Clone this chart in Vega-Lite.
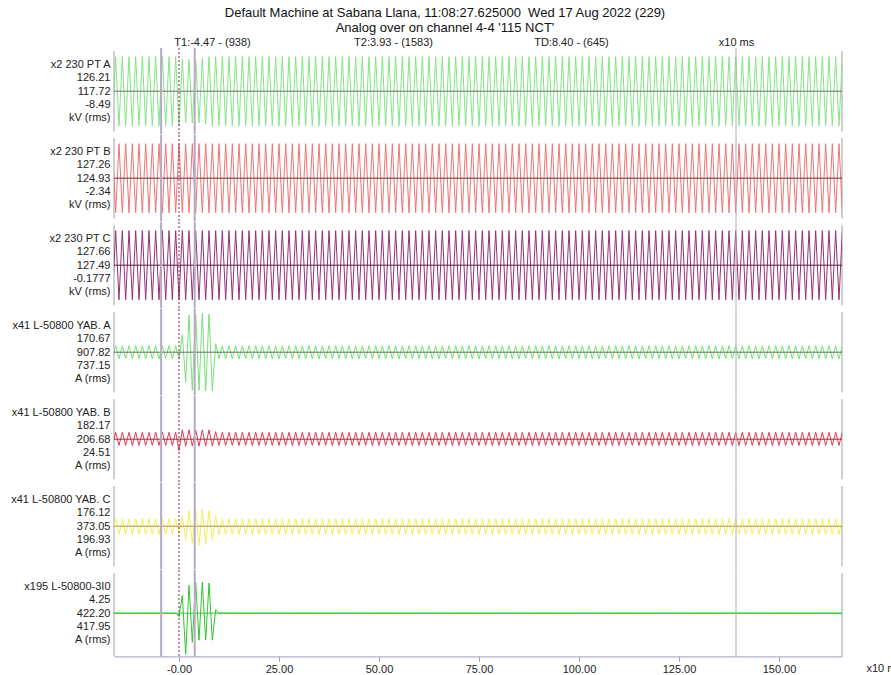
{
"$schema": "https://vega.github.io/schema/vega-lite/v6.json",
"padding": {"left": 10, "top": 7, "right": 0, "bottom": 0},
"background": "white",
"spacing": 0,
"bounds": "flush",
"config": {
 "font": "Liberation Sans",
 "view": {"stroke": null},
 "concat": {"spacing": 0},
 "title": {"fontSize": 13, "fontWeight": "normal", "color": "#111111"},
 "axisY": {"titleAngle": 0, "titleAlign": "right", "titleBaseline": "middle", "titleX": -4, "titleY": 16.6, "titleFontSize": 11, "titleFontWeight": "normal", "titleLineHeight": 13.3, "titleColor": "#222222", "labels": false, "ticks": false, "domain": false, "grid": false}
},
"title": {"text": ["Default Machine at Sabana Llana, 11:08:27.625000\u00a0 Wed 17 Aug 2022 (229)", "Analog over on channel 4-4 '115 NCT'"], "lineHeight": 15, "offset": 1, "anchor": "middle", "dx": -11},
"datasets": {
 "tc": [{"t": -4.47}, {"t": 3.93}],
 "tz": [{"t": 0}],
 "tm": [{"t": 139.25}],
 "zero": [{"v": 0}],
 "w": [
{"t":-16.67,"a":-100,"b":100,"c":-100,"d":-19,"e":-18,"f":-24,"g":0},
{"t":-15.83,"a":100,"b":-100,"c":100,"d":19,"e":20,"f":22,"g":0},
{"t":-15,"a":-100,"b":100,"c":-100,"d":-19,"e":-18,"f":-24,"g":0},
{"t":-14.17,"a":100,"b":-100,"c":100,"d":19,"e":20,"f":22,"g":0},
{"t":-13.33,"a":-100,"b":100,"c":-100,"d":-19,"e":-18,"f":-24,"g":0},
{"t":-12.5,"a":100,"b":-100,"c":100,"d":19,"e":20,"f":22,"g":0},
{"t":-11.67,"a":-100,"b":100,"c":-100,"d":-19,"e":-18,"f":-24,"g":0},
{"t":-10.83,"a":100,"b":-100,"c":100,"d":19,"e":20,"f":22,"g":0},
{"t":-10,"a":-100,"b":100,"c":-100,"d":-19,"e":-18,"f":-24,"g":0},
{"t":-9.17,"a":100,"b":-100,"c":100,"d":19,"e":20,"f":22,"g":0},
{"t":-8.33,"a":-100,"b":100,"c":-100,"d":-19,"e":-18,"f":-24,"g":0},
{"t":-7.5,"a":100,"b":-100,"c":100,"d":19,"e":20,"f":22,"g":0},
{"t":-6.67,"a":-100,"b":100,"c":-100,"d":-19,"e":-18,"f":-24,"g":0},
{"t":-5.83,"a":100,"b":-100,"c":100,"d":19,"e":20,"f":22,"g":0},
{"t":-5,"a":-100,"b":100,"c":-100,"d":-19,"e":-18,"f":-24,"g":0},
{"t":-4.17,"a":100,"b":-100,"c":100,"d":19,"e":20,"f":22,"g":0},
{"t":-3.33,"a":-100,"b":100,"c":-100,"d":-19,"e":-18,"f":-24,"g":0},
{"t":-2.5,"a":100,"b":-100,"c":100,"d":19,"e":20,"f":22,"g":0},
{"t":-1.67,"a":-100,"b":100,"c":-100,"d":-19,"e":-18,"f":-24,"g":0},
{"t":-0.83,"a":100,"b":-100,"c":100,"d":19,"e":20,"f":22,"g":0},
{"t":0,"a":-100,"b":100,"c":-100,"d":-19,"e":-33,"f":-24,"g":-10},
{"t":0.83,"a":92,"b":-100,"c":100,"d":50,"e":27,"f":30,"g":52},
{"t":1.67,"a":-92,"b":100,"c":-100,"d":-87,"e":-20,"f":-40,"g":-119},
{"t":2.5,"a":92,"b":-100,"c":100,"d":107,"e":27,"f":45,"g":81},
{"t":3.33,"a":-92,"b":100,"c":-100,"d":-110,"e":-20,"f":-50,"g":-84},
{"t":4.17,"a":92,"b":-100,"c":100,"d":110,"e":27,"f":50,"g":90},
{"t":5,"a":-92,"b":100,"c":-100,"d":-110,"e":-20,"f":-55,"g":-78},
{"t":5.83,"a":95,"b":-100,"c":100,"d":112,"e":27,"f":50,"g":90},
{"t":6.67,"a":-95,"b":100,"c":-100,"d":-112,"e":-20,"f":-50,"g":-78},
{"t":7.5,"a":100,"b":-100,"c":100,"d":110,"e":27,"f":45,"g":87},
{"t":8.33,"a":-100,"b":100,"c":-100,"d":-112,"e":-20,"f":-40,"g":-78},
{"t":9.17,"a":100,"b":-100,"c":100,"d":25,"e":22,"f":30,"g":10},
{"t":10,"a":-100,"b":100,"c":-100,"d":-19,"e":-18,"f":-25,"g":0},
{"t":10.83,"a":100,"b":-100,"c":100,"d":19,"e":20,"f":22,"g":0},
{"t":11.67,"a":-100,"b":100,"c":-100,"d":-19,"e":-18,"f":-24,"g":0},
{"t":12.5,"a":100,"b":-100,"c":100,"d":19,"e":20,"f":22,"g":0},
{"t":13.33,"a":-100,"b":100,"c":-100,"d":-19,"e":-18,"f":-24,"g":0},
{"t":14.17,"a":100,"b":-100,"c":100,"d":19,"e":20,"f":22,"g":0},
{"t":15,"a":-100,"b":100,"c":-100,"d":-19,"e":-18,"f":-24,"g":0},
{"t":15.83,"a":100,"b":-100,"c":100,"d":19,"e":20,"f":22,"g":0},
{"t":16.67,"a":-100,"b":100,"c":-100,"d":-19,"e":-18,"f":-24,"g":0},
{"t":17.5,"a":100,"b":-100,"c":100,"d":19,"e":20,"f":22,"g":0},
{"t":18.33,"a":-100,"b":100,"c":-100,"d":-19,"e":-18,"f":-24,"g":0},
{"t":19.17,"a":100,"b":-100,"c":100,"d":19,"e":20,"f":22,"g":0},
{"t":20,"a":-100,"b":100,"c":-100,"d":-19,"e":-18,"f":-24,"g":0},
{"t":20.83,"a":100,"b":-100,"c":100,"d":19,"e":20,"f":22,"g":0},
{"t":21.67,"a":-100,"b":100,"c":-100,"d":-19,"e":-18,"f":-24,"g":0},
{"t":22.5,"a":100,"b":-100,"c":100,"d":19,"e":20,"f":22,"g":0},
{"t":23.33,"a":-100,"b":100,"c":-100,"d":-19,"e":-18,"f":-24,"g":0},
{"t":24.17,"a":100,"b":-100,"c":100,"d":19,"e":20,"f":22,"g":0},
{"t":25,"a":-100,"b":100,"c":-100,"d":-19,"e":-18,"f":-24,"g":0},
{"t":25.83,"a":100,"b":-100,"c":100,"d":19,"e":20,"f":22,"g":0},
{"t":26.67,"a":-100,"b":100,"c":-100,"d":-19,"e":-18,"f":-24,"g":0},
{"t":27.5,"a":100,"b":-100,"c":100,"d":19,"e":20,"f":22,"g":0},
{"t":28.33,"a":-100,"b":100,"c":-100,"d":-19,"e":-18,"f":-24,"g":0},
{"t":29.17,"a":100,"b":-100,"c":100,"d":19,"e":20,"f":22,"g":0},
{"t":30,"a":-100,"b":100,"c":-100,"d":-19,"e":-18,"f":-24,"g":0},
{"t":30.83,"a":100,"b":-100,"c":100,"d":19,"e":20,"f":22,"g":0},
{"t":31.67,"a":-100,"b":100,"c":-100,"d":-19,"e":-18,"f":-24,"g":0},
{"t":32.5,"a":100,"b":-100,"c":100,"d":19,"e":20,"f":22,"g":0},
{"t":33.33,"a":-100,"b":100,"c":-100,"d":-19,"e":-18,"f":-24,"g":0},
{"t":34.17,"a":100,"b":-100,"c":100,"d":19,"e":20,"f":22,"g":0},
{"t":35,"a":-100,"b":100,"c":-100,"d":-19,"e":-18,"f":-24,"g":0},
{"t":35.83,"a":100,"b":-100,"c":100,"d":19,"e":20,"f":22,"g":0},
{"t":36.67,"a":-100,"b":100,"c":-100,"d":-19,"e":-18,"f":-24,"g":0},
{"t":37.5,"a":100,"b":-100,"c":100,"d":19,"e":20,"f":22,"g":0},
{"t":38.33,"a":-100,"b":100,"c":-100,"d":-19,"e":-18,"f":-24,"g":0},
{"t":39.17,"a":100,"b":-100,"c":100,"d":19,"e":20,"f":22,"g":0},
{"t":40,"a":-100,"b":100,"c":-100,"d":-19,"e":-18,"f":-24,"g":0},
{"t":40.83,"a":100,"b":-100,"c":100,"d":19,"e":20,"f":22,"g":0},
{"t":41.67,"a":-100,"b":100,"c":-100,"d":-19,"e":-18,"f":-24,"g":0},
{"t":42.5,"a":100,"b":-100,"c":100,"d":19,"e":20,"f":22,"g":0},
{"t":43.33,"a":-100,"b":100,"c":-100,"d":-19,"e":-18,"f":-24,"g":0},
{"t":44.17,"a":100,"b":-100,"c":100,"d":19,"e":20,"f":22,"g":0},
{"t":45,"a":-100,"b":100,"c":-100,"d":-19,"e":-18,"f":-24,"g":0},
{"t":45.83,"a":100,"b":-100,"c":100,"d":19,"e":20,"f":22,"g":0},
{"t":46.67,"a":-100,"b":100,"c":-100,"d":-19,"e":-18,"f":-24,"g":0},
{"t":47.5,"a":100,"b":-100,"c":100,"d":19,"e":20,"f":22,"g":0},
{"t":48.33,"a":-100,"b":100,"c":-100,"d":-19,"e":-18,"f":-24,"g":0},
{"t":49.17,"a":100,"b":-100,"c":100,"d":19,"e":20,"f":22,"g":0},
{"t":50,"a":-100,"b":100,"c":-100,"d":-19,"e":-18,"f":-24,"g":0},
{"t":50.83,"a":100,"b":-100,"c":100,"d":19,"e":20,"f":22,"g":0},
{"t":51.67,"a":-100,"b":100,"c":-100,"d":-19,"e":-18,"f":-24,"g":0},
{"t":52.5,"a":100,"b":-100,"c":100,"d":19,"e":20,"f":22,"g":0},
{"t":53.33,"a":-100,"b":100,"c":-100,"d":-19,"e":-18,"f":-24,"g":0},
{"t":54.17,"a":100,"b":-100,"c":100,"d":19,"e":20,"f":22,"g":0},
{"t":55,"a":-100,"b":100,"c":-100,"d":-19,"e":-18,"f":-24,"g":0},
{"t":55.83,"a":100,"b":-100,"c":100,"d":19,"e":20,"f":22,"g":0},
{"t":56.67,"a":-100,"b":100,"c":-100,"d":-19,"e":-18,"f":-24,"g":0},
{"t":57.5,"a":100,"b":-100,"c":100,"d":19,"e":20,"f":22,"g":0},
{"t":58.33,"a":-100,"b":100,"c":-100,"d":-19,"e":-18,"f":-24,"g":0},
{"t":59.17,"a":100,"b":-100,"c":100,"d":19,"e":20,"f":22,"g":0},
{"t":60,"a":-100,"b":100,"c":-100,"d":-19,"e":-18,"f":-24,"g":0},
{"t":60.83,"a":100,"b":-100,"c":100,"d":19,"e":20,"f":22,"g":0},
{"t":61.67,"a":-100,"b":100,"c":-100,"d":-19,"e":-18,"f":-24,"g":0},
{"t":62.5,"a":100,"b":-100,"c":100,"d":19,"e":20,"f":22,"g":0},
{"t":63.33,"a":-100,"b":100,"c":-100,"d":-19,"e":-18,"f":-24,"g":0},
{"t":64.17,"a":100,"b":-100,"c":100,"d":19,"e":20,"f":22,"g":0},
{"t":65,"a":-100,"b":100,"c":-100,"d":-19,"e":-18,"f":-24,"g":0},
{"t":65.83,"a":100,"b":-100,"c":100,"d":19,"e":20,"f":22,"g":0},
{"t":66.67,"a":-100,"b":100,"c":-100,"d":-19,"e":-18,"f":-24,"g":0},
{"t":67.5,"a":100,"b":-100,"c":100,"d":19,"e":20,"f":22,"g":0},
{"t":68.33,"a":-100,"b":100,"c":-100,"d":-19,"e":-18,"f":-24,"g":0},
{"t":69.17,"a":100,"b":-100,"c":100,"d":19,"e":20,"f":22,"g":0},
{"t":70,"a":-100,"b":100,"c":-100,"d":-19,"e":-18,"f":-24,"g":0},
{"t":70.83,"a":100,"b":-100,"c":100,"d":19,"e":20,"f":22,"g":0},
{"t":71.67,"a":-100,"b":100,"c":-100,"d":-19,"e":-18,"f":-24,"g":0},
{"t":72.5,"a":100,"b":-100,"c":100,"d":19,"e":20,"f":22,"g":0},
{"t":73.33,"a":-100,"b":100,"c":-100,"d":-19,"e":-18,"f":-24,"g":0},
{"t":74.17,"a":100,"b":-100,"c":100,"d":19,"e":20,"f":22,"g":0},
{"t":75,"a":-100,"b":100,"c":-100,"d":-19,"e":-18,"f":-24,"g":0},
{"t":75.83,"a":100,"b":-100,"c":100,"d":19,"e":20,"f":22,"g":0},
{"t":76.67,"a":-100,"b":100,"c":-100,"d":-19,"e":-18,"f":-24,"g":0},
{"t":77.5,"a":100,"b":-100,"c":100,"d":19,"e":20,"f":22,"g":0},
{"t":78.33,"a":-100,"b":100,"c":-100,"d":-19,"e":-18,"f":-24,"g":0},
{"t":79.17,"a":100,"b":-100,"c":100,"d":19,"e":20,"f":22,"g":0},
{"t":80,"a":-100,"b":100,"c":-100,"d":-19,"e":-18,"f":-24,"g":0},
{"t":80.83,"a":100,"b":-100,"c":100,"d":19,"e":20,"f":22,"g":0},
{"t":81.67,"a":-100,"b":100,"c":-100,"d":-19,"e":-18,"f":-24,"g":0},
{"t":82.5,"a":100,"b":-100,"c":100,"d":19,"e":20,"f":22,"g":0},
{"t":83.33,"a":-100,"b":100,"c":-100,"d":-19,"e":-18,"f":-24,"g":0},
{"t":84.17,"a":100,"b":-100,"c":100,"d":19,"e":20,"f":22,"g":0},
{"t":85,"a":-100,"b":100,"c":-100,"d":-19,"e":-18,"f":-24,"g":0},
{"t":85.83,"a":100,"b":-100,"c":100,"d":19,"e":20,"f":22,"g":0},
{"t":86.67,"a":-100,"b":100,"c":-100,"d":-19,"e":-18,"f":-24,"g":0},
{"t":87.5,"a":100,"b":-100,"c":100,"d":19,"e":20,"f":22,"g":0},
{"t":88.33,"a":-100,"b":100,"c":-100,"d":-19,"e":-18,"f":-24,"g":0},
{"t":89.17,"a":100,"b":-100,"c":100,"d":19,"e":20,"f":22,"g":0},
{"t":90,"a":-100,"b":100,"c":-100,"d":-19,"e":-18,"f":-24,"g":0},
{"t":90.83,"a":100,"b":-100,"c":100,"d":19,"e":20,"f":22,"g":0},
{"t":91.67,"a":-100,"b":100,"c":-100,"d":-19,"e":-18,"f":-24,"g":0},
{"t":92.5,"a":100,"b":-100,"c":100,"d":19,"e":20,"f":22,"g":0},
{"t":93.33,"a":-100,"b":100,"c":-100,"d":-19,"e":-18,"f":-24,"g":0},
{"t":94.17,"a":100,"b":-100,"c":100,"d":19,"e":20,"f":22,"g":0},
{"t":95,"a":-100,"b":100,"c":-100,"d":-19,"e":-18,"f":-24,"g":0},
{"t":95.83,"a":100,"b":-100,"c":100,"d":19,"e":20,"f":22,"g":0},
{"t":96.67,"a":-100,"b":100,"c":-100,"d":-19,"e":-18,"f":-24,"g":0},
{"t":97.5,"a":100,"b":-100,"c":100,"d":19,"e":20,"f":22,"g":0},
{"t":98.33,"a":-100,"b":100,"c":-100,"d":-19,"e":-18,"f":-24,"g":0},
{"t":99.17,"a":100,"b":-100,"c":100,"d":19,"e":20,"f":22,"g":0},
{"t":100,"a":-100,"b":100,"c":-100,"d":-19,"e":-18,"f":-24,"g":0},
{"t":100.83,"a":100,"b":-100,"c":100,"d":19,"e":20,"f":22,"g":0},
{"t":101.67,"a":-100,"b":100,"c":-100,"d":-19,"e":-18,"f":-24,"g":0},
{"t":102.5,"a":100,"b":-100,"c":100,"d":19,"e":20,"f":22,"g":0},
{"t":103.33,"a":-100,"b":100,"c":-100,"d":-19,"e":-18,"f":-24,"g":0},
{"t":104.17,"a":100,"b":-100,"c":100,"d":19,"e":20,"f":22,"g":0},
{"t":105,"a":-100,"b":100,"c":-100,"d":-19,"e":-18,"f":-24,"g":0},
{"t":105.83,"a":100,"b":-100,"c":100,"d":19,"e":20,"f":22,"g":0},
{"t":106.67,"a":-100,"b":100,"c":-100,"d":-19,"e":-18,"f":-24,"g":0},
{"t":107.5,"a":100,"b":-100,"c":100,"d":19,"e":20,"f":22,"g":0},
{"t":108.33,"a":-100,"b":100,"c":-100,"d":-19,"e":-18,"f":-24,"g":0},
{"t":109.17,"a":100,"b":-100,"c":100,"d":19,"e":20,"f":22,"g":0},
{"t":110,"a":-100,"b":100,"c":-100,"d":-19,"e":-18,"f":-24,"g":0},
{"t":110.83,"a":100,"b":-100,"c":100,"d":19,"e":20,"f":22,"g":0},
{"t":111.67,"a":-100,"b":100,"c":-100,"d":-19,"e":-18,"f":-24,"g":0},
{"t":112.5,"a":100,"b":-100,"c":100,"d":19,"e":20,"f":22,"g":0},
{"t":113.33,"a":-100,"b":100,"c":-100,"d":-19,"e":-18,"f":-24,"g":0},
{"t":114.17,"a":100,"b":-100,"c":100,"d":19,"e":20,"f":22,"g":0},
{"t":115,"a":-100,"b":100,"c":-100,"d":-19,"e":-18,"f":-24,"g":0},
{"t":115.83,"a":100,"b":-100,"c":100,"d":19,"e":20,"f":22,"g":0},
{"t":116.67,"a":-100,"b":100,"c":-100,"d":-19,"e":-18,"f":-24,"g":0},
{"t":117.5,"a":100,"b":-100,"c":100,"d":19,"e":20,"f":22,"g":0},
{"t":118.33,"a":-100,"b":100,"c":-100,"d":-19,"e":-18,"f":-24,"g":0},
{"t":119.17,"a":100,"b":-100,"c":100,"d":19,"e":20,"f":22,"g":0},
{"t":120,"a":-100,"b":100,"c":-100,"d":-19,"e":-18,"f":-24,"g":0},
{"t":120.83,"a":100,"b":-100,"c":100,"d":19,"e":20,"f":22,"g":0},
{"t":121.67,"a":-100,"b":100,"c":-100,"d":-19,"e":-18,"f":-24,"g":0},
{"t":122.5,"a":100,"b":-100,"c":100,"d":19,"e":20,"f":22,"g":0},
{"t":123.33,"a":-100,"b":100,"c":-100,"d":-19,"e":-18,"f":-24,"g":0},
{"t":124.17,"a":100,"b":-100,"c":100,"d":19,"e":20,"f":22,"g":0},
{"t":125,"a":-100,"b":100,"c":-100,"d":-19,"e":-18,"f":-24,"g":0},
{"t":125.83,"a":100,"b":-100,"c":100,"d":19,"e":20,"f":22,"g":0},
{"t":126.67,"a":-100,"b":100,"c":-100,"d":-19,"e":-18,"f":-24,"g":0},
{"t":127.5,"a":100,"b":-100,"c":100,"d":19,"e":20,"f":22,"g":0},
{"t":128.33,"a":-100,"b":100,"c":-100,"d":-19,"e":-18,"f":-24,"g":0},
{"t":129.17,"a":100,"b":-100,"c":100,"d":19,"e":20,"f":22,"g":0},
{"t":130,"a":-100,"b":100,"c":-100,"d":-19,"e":-18,"f":-24,"g":0},
{"t":130.83,"a":100,"b":-100,"c":100,"d":19,"e":20,"f":22,"g":0},
{"t":131.67,"a":-100,"b":100,"c":-100,"d":-19,"e":-18,"f":-24,"g":0},
{"t":132.5,"a":100,"b":-100,"c":100,"d":19,"e":20,"f":22,"g":0},
{"t":133.33,"a":-100,"b":100,"c":-100,"d":-19,"e":-18,"f":-24,"g":0},
{"t":134.17,"a":100,"b":-100,"c":100,"d":19,"e":20,"f":22,"g":0},
{"t":135,"a":-100,"b":100,"c":-100,"d":-19,"e":-18,"f":-24,"g":0},
{"t":135.83,"a":100,"b":-100,"c":100,"d":19,"e":20,"f":22,"g":0},
{"t":136.67,"a":-100,"b":100,"c":-100,"d":-19,"e":-18,"f":-24,"g":0},
{"t":137.5,"a":100,"b":-100,"c":100,"d":19,"e":20,"f":22,"g":0},
{"t":138.33,"a":-100,"b":100,"c":-100,"d":-19,"e":-18,"f":-24,"g":0},
{"t":139.17,"a":100,"b":-100,"c":100,"d":19,"e":20,"f":22,"g":0},
{"t":140,"a":-100,"b":100,"c":-100,"d":-19,"e":-18,"f":-24,"g":0},
{"t":140.83,"a":100,"b":-100,"c":100,"d":19,"e":20,"f":22,"g":0},
{"t":141.67,"a":-100,"b":100,"c":-100,"d":-19,"e":-18,"f":-24,"g":0},
{"t":142.5,"a":100,"b":-100,"c":100,"d":19,"e":20,"f":22,"g":0},
{"t":143.33,"a":-100,"b":100,"c":-100,"d":-19,"e":-18,"f":-24,"g":0},
{"t":144.17,"a":100,"b":-100,"c":100,"d":19,"e":20,"f":22,"g":0},
{"t":145,"a":-100,"b":100,"c":-100,"d":-19,"e":-18,"f":-24,"g":0},
{"t":145.83,"a":100,"b":-100,"c":100,"d":19,"e":20,"f":22,"g":0},
{"t":146.67,"a":-100,"b":100,"c":-100,"d":-19,"e":-18,"f":-24,"g":0},
{"t":147.5,"a":100,"b":-100,"c":100,"d":19,"e":20,"f":22,"g":0},
{"t":148.33,"a":-100,"b":100,"c":-100,"d":-19,"e":-18,"f":-24,"g":0},
{"t":149.17,"a":100,"b":-100,"c":100,"d":19,"e":20,"f":22,"g":0},
{"t":150,"a":-100,"b":100,"c":-100,"d":-19,"e":-18,"f":-24,"g":0},
{"t":150.83,"a":100,"b":-100,"c":100,"d":19,"e":20,"f":22,"g":0},
{"t":151.67,"a":-100,"b":100,"c":-100,"d":-19,"e":-18,"f":-24,"g":0},
{"t":152.5,"a":100,"b":-100,"c":100,"d":19,"e":20,"f":22,"g":0},
{"t":153.33,"a":-100,"b":100,"c":-100,"d":-19,"e":-18,"f":-24,"g":0},
{"t":154.17,"a":100,"b":-100,"c":100,"d":19,"e":20,"f":22,"g":0},
{"t":155,"a":-100,"b":100,"c":-100,"d":-19,"e":-18,"f":-24,"g":0},
{"t":155.83,"a":100,"b":-100,"c":100,"d":19,"e":20,"f":22,"g":0},
{"t":156.67,"a":-100,"b":100,"c":-100,"d":-19,"e":-18,"f":-24,"g":0},
{"t":157.5,"a":100,"b":-100,"c":100,"d":19,"e":20,"f":22,"g":0},
{"t":158.33,"a":-100,"b":100,"c":-100,"d":-19,"e":-18,"f":-24,"g":0},
{"t":159.17,"a":100,"b":-100,"c":100,"d":19,"e":20,"f":22,"g":0},
{"t":160,"a":-100,"b":100,"c":-100,"d":-19,"e":-18,"f":-24,"g":0},
{"t":160.83,"a":100,"b":-100,"c":100,"d":19,"e":20,"f":22,"g":0},
{"t":161.67,"a":-100,"b":100,"c":-100,"d":-19,"e":-18,"f":-24,"g":0},
{"t":162.5,"a":100,"b":-100,"c":100,"d":19,"e":20,"f":22,"g":0},
{"t":163.33,"a":-100,"b":100,"c":-100,"d":-19,"e":-18,"f":-24,"g":0},
{"t":164.17,"a":100,"b":-100,"c":100,"d":19,"e":20,"f":22,"g":0},
{"t":165,"a":-100,"b":100,"c":-100,"d":-19,"e":-18,"f":-24,"g":0},
{"t":165.83,"a":100,"b":-100,"c":100,"d":19,"e":20,"f":22,"g":0}
 ]
},
"vconcat": [
 {"width": 728, "height": 86.4, "resolve": {"axis": {"x": "independent", "y": "independent"}}, "layer": [
  {"data": {"values": [{}]}, "mark": {"type": "rule", "color": "#a0a0a0"}, "encoding": {"x": {"datum": -16.25, "axis": null}, "y": {"datum": -116, "axis": null}, "y2": {"datum": 116}}},
  {"data": {"values": [{}]}, "mark": {"type": "rule", "color": "#a0a0a0"}, "encoding": {"x": {"datum": 165.75, "axis": null}, "y": {"datum": -116, "axis": null}, "y2": {"datum": 116}}},
  {"data": {"name": "w"}, "mark": {"type": "line", "color": "#84e684", "strokeWidth": 1, "clip": true}, "encoding": {
    "x": {"field": "t", "type": "quantitative", "scale": {"domain": [-16.25, 165.75], "nice": false, "zero": false}, "axis": {"orient": "top", "values": [8.25, 53.5, 98, 139.25], "labelExpr": "datum.value < 20 ? 'T1:-4.47 - (938)' : datum.value < 60 ? 'T2:3.93 - (1583)' : datum.value < 120 ? 'TD:8.40 - (645)' : 'x10 ms'", "ticks": false, "domain": false, "grid": false, "title": null, "labelFontSize": 11, "labelColor": "#222222", "labelPadding": 1, "labelFlush": false, "labelOverlap": false}},
    "y": {"field": "a", "type": "quantitative", "scale": {"domain": [-125, 125], "nice": false}, "axis": {"title": ["x2 230 PT A", "126.21", "117.72", "-8.49", "kV (rms)"]}}}},
  {"data": {"name": "zero"}, "mark": {"type": "rule", "color": "#6e6e6e"}, "encoding": {"y": {"field": "v", "type": "quantitative", "axis": null}}},
  {"data": {"name": "tc"}, "mark": {"type": "rule", "color": "#b8a8c4", "strokeWidth": 2}, "encoding": {"x": {"field": "t", "type": "quantitative", "axis": null}}},
  {"data": {"name": "tz"}, "mark": {"type": "rule", "color": "#8b2260", "strokeDash": [2, 2]}, "encoding": {"x": {"field": "t", "type": "quantitative", "axis": null}}},
  {"data": {"name": "tm"}, "mark": {"type": "rule", "color": "#b4a8bc"}, "encoding": {"x": {"field": "t", "type": "quantitative", "axis": null}}}
 ]},
 {"width": 728, "height": 86.4, "resolve": {"axis": {"x": "independent", "y": "independent"}}, "layer": [
  {"data": {"values": [{}]}, "mark": {"type": "rule", "color": "#a0a0a0"}, "encoding": {"x": {"datum": -16.25, "axis": null}, "y": {"datum": -116, "axis": null}, "y2": {"datum": 116}}},
  {"data": {"values": [{}]}, "mark": {"type": "rule", "color": "#a0a0a0"}, "encoding": {"x": {"datum": 165.75, "axis": null}, "y": {"datum": -116, "axis": null}, "y2": {"datum": 116}}},
  {"data": {"name": "w"}, "mark": {"type": "line", "color": "#f07474", "strokeWidth": 1, "clip": true}, "encoding": {
    "x": {"field": "t", "type": "quantitative", "scale": {"domain": [-16.25, 165.75], "nice": false, "zero": false}, "axis": null},
    "y": {"field": "b", "type": "quantitative", "scale": {"domain": [-125, 125], "nice": false}, "axis": {"title": ["x2 230 PT B", "127.26", "124.93", "-2.34", "kV (rms)"]}}}},
  {"data": {"name": "zero"}, "mark": {"type": "rule", "color": "#7a2a2a"}, "encoding": {"y": {"field": "v", "type": "quantitative", "axis": null}}},
  {"data": {"name": "tc"}, "mark": {"type": "rule", "color": "#b8a8c4", "strokeWidth": 2}, "encoding": {"x": {"field": "t", "type": "quantitative", "axis": null}}},
  {"data": {"name": "tz"}, "mark": {"type": "rule", "color": "#8b2260", "strokeDash": [2, 2]}, "encoding": {"x": {"field": "t", "type": "quantitative", "axis": null}}},
  {"data": {"name": "tm"}, "mark": {"type": "rule", "color": "#b4a8bc"}, "encoding": {"x": {"field": "t", "type": "quantitative", "axis": null}}}
 ]},
 {"width": 728, "height": 86.4, "resolve": {"axis": {"x": "independent", "y": "independent"}}, "layer": [
  {"data": {"values": [{}]}, "mark": {"type": "rule", "color": "#a0a0a0"}, "encoding": {"x": {"datum": -16.25, "axis": null}, "y": {"datum": -116, "axis": null}, "y2": {"datum": 116}}},
  {"data": {"values": [{}]}, "mark": {"type": "rule", "color": "#a0a0a0"}, "encoding": {"x": {"datum": 165.75, "axis": null}, "y": {"datum": -116, "axis": null}, "y2": {"datum": 116}}},
  {"data": {"name": "w"}, "mark": {"type": "line", "color": "#94307a", "strokeWidth": 1, "clip": true}, "encoding": {
    "x": {"field": "t", "type": "quantitative", "scale": {"domain": [-16.25, 165.75], "nice": false, "zero": false}, "axis": null},
    "y": {"field": "c", "type": "quantitative", "scale": {"domain": [-125, 125], "nice": false}, "axis": {"title": ["x2 230 PT C", "127.66", "127.49", "-0.1777", "kV (rms)"]}}}},
  {"data": {"name": "zero"}, "mark": {"type": "rule", "color": "#5a1a40"}, "encoding": {"y": {"field": "v", "type": "quantitative", "axis": null}}},
  {"data": {"name": "tc"}, "mark": {"type": "rule", "color": "#b8a8c4", "strokeWidth": 2}, "encoding": {"x": {"field": "t", "type": "quantitative", "axis": null}}},
  {"data": {"name": "tz"}, "mark": {"type": "rule", "color": "#8b2260", "strokeDash": [2, 2]}, "encoding": {"x": {"field": "t", "type": "quantitative", "axis": null}}},
  {"data": {"name": "tm"}, "mark": {"type": "rule", "color": "#b4a8bc"}, "encoding": {"x": {"field": "t", "type": "quantitative", "axis": null}}}
 ]},
 {"width": 728, "height": 86.4, "resolve": {"axis": {"x": "independent", "y": "independent"}}, "layer": [
  {"data": {"values": [{}]}, "mark": {"type": "rule", "color": "#a0a0a0"}, "encoding": {"x": {"datum": -16.25, "axis": null}, "y": {"datum": -116, "axis": null}, "y2": {"datum": 116}}},
  {"data": {"values": [{}]}, "mark": {"type": "rule", "color": "#a0a0a0"}, "encoding": {"x": {"datum": 165.75, "axis": null}, "y": {"datum": -116, "axis": null}, "y2": {"datum": 116}}},
  {"data": {"name": "w"}, "mark": {"type": "line", "color": "#76e276", "strokeWidth": 1, "clip": true}, "encoding": {
    "x": {"field": "t", "type": "quantitative", "scale": {"domain": [-16.25, 165.75], "nice": false, "zero": false}, "axis": null},
    "y": {"field": "d", "type": "quantitative", "scale": {"domain": [-125, 125], "nice": false}, "axis": {"title": ["x41 L-50800 YAB. A", "170.67", "907.82", "737.15", "A (rms)"]}}}},
  {"data": {"name": "zero"}, "mark": {"type": "rule", "color": "#5e6e5e"}, "encoding": {"y": {"field": "v", "type": "quantitative", "axis": null}}},
  {"data": {"name": "tc"}, "mark": {"type": "rule", "color": "#b8a8c4", "strokeWidth": 2}, "encoding": {"x": {"field": "t", "type": "quantitative", "axis": null}}},
  {"data": {"name": "tz"}, "mark": {"type": "rule", "color": "#8b2260", "strokeDash": [2, 2]}, "encoding": {"x": {"field": "t", "type": "quantitative", "axis": null}}},
  {"data": {"name": "tm"}, "mark": {"type": "rule", "color": "#b4a8bc"}, "encoding": {"x": {"field": "t", "type": "quantitative", "axis": null}}}
 ]},
 {"width": 728, "height": 86.4, "resolve": {"axis": {"x": "independent", "y": "independent"}}, "layer": [
  {"data": {"values": [{}]}, "mark": {"type": "rule", "color": "#a0a0a0"}, "encoding": {"x": {"datum": -16.25, "axis": null}, "y": {"datum": -116, "axis": null}, "y2": {"datum": 116}}},
  {"data": {"values": [{}]}, "mark": {"type": "rule", "color": "#a0a0a0"}, "encoding": {"x": {"datum": 165.75, "axis": null}, "y": {"datum": -116, "axis": null}, "y2": {"datum": 116}}},
  {"data": {"name": "w"}, "mark": {"type": "line", "color": "#e8384e", "strokeWidth": 1, "clip": true}, "encoding": {
    "x": {"field": "t", "type": "quantitative", "scale": {"domain": [-16.25, 165.75], "nice": false, "zero": false}, "axis": null},
    "y": {"field": "e", "type": "quantitative", "scale": {"domain": [-125, 125], "nice": false}, "axis": {"title": ["x41 L-50800 YAB. B", "182.17", "206.68", "24.51", "A (rms)"]}}}},
  {"data": {"name": "zero"}, "mark": {"type": "rule", "color": "#a02838"}, "encoding": {"y": {"field": "v", "type": "quantitative", "axis": null}}},
  {"data": {"name": "tc"}, "mark": {"type": "rule", "color": "#b8a8c4", "strokeWidth": 2}, "encoding": {"x": {"field": "t", "type": "quantitative", "axis": null}}},
  {"data": {"name": "tz"}, "mark": {"type": "rule", "color": "#8b2260", "strokeDash": [2, 2]}, "encoding": {"x": {"field": "t", "type": "quantitative", "axis": null}}},
  {"data": {"name": "tm"}, "mark": {"type": "rule", "color": "#b4a8bc"}, "encoding": {"x": {"field": "t", "type": "quantitative", "axis": null}}}
 ]},
 {"width": 728, "height": 86.4, "resolve": {"axis": {"x": "independent", "y": "independent"}}, "layer": [
  {"data": {"values": [{}]}, "mark": {"type": "rule", "color": "#a0a0a0"}, "encoding": {"x": {"datum": -16.25, "axis": null}, "y": {"datum": -116, "axis": null}, "y2": {"datum": 116}}},
  {"data": {"values": [{}]}, "mark": {"type": "rule", "color": "#a0a0a0"}, "encoding": {"x": {"datum": 165.75, "axis": null}, "y": {"datum": -116, "axis": null}, "y2": {"datum": 116}}},
  {"data": {"name": "w"}, "mark": {"type": "line", "color": "#f2ee5a", "strokeWidth": 1, "clip": true}, "encoding": {
    "x": {"field": "t", "type": "quantitative", "scale": {"domain": [-16.25, 165.75], "nice": false, "zero": false}, "axis": null},
    "y": {"field": "f", "type": "quantitative", "scale": {"domain": [-125, 125], "nice": false}, "axis": {"title": ["x41 L-50800 YAB. C", "176.12", "373.05", "196.93", "A (rms)"]}}}},
  {"data": {"name": "zero"}, "mark": {"type": "rule", "color": "#a89a48"}, "encoding": {"y": {"field": "v", "type": "quantitative", "axis": null}}},
  {"data": {"name": "tc"}, "mark": {"type": "rule", "color": "#b8a8c4", "strokeWidth": 2}, "encoding": {"x": {"field": "t", "type": "quantitative", "axis": null}}},
  {"data": {"name": "tz"}, "mark": {"type": "rule", "color": "#8b2260", "strokeDash": [2, 2]}, "encoding": {"x": {"field": "t", "type": "quantitative", "axis": null}}},
  {"data": {"name": "tm"}, "mark": {"type": "rule", "color": "#b4a8bc"}, "encoding": {"x": {"field": "t", "type": "quantitative", "axis": null}}}
 ]},
 {"width": 728, "height": 86.4, "resolve": {"axis": {"x": "independent", "y": "independent"}}, "layer": [
  {"data": {"values": [{}]}, "mark": {"type": "rule", "color": "#a0a0a0"}, "encoding": {"x": {"datum": -16.25, "axis": null}, "y": {"datum": -125, "axis": null}, "y2": {"datum": 116}}},
  {"data": {"values": [{}]}, "mark": {"type": "rule", "color": "#a0a0a0"}, "encoding": {"x": {"datum": 165.75, "axis": null}, "y": {"datum": -125, "axis": null}, "y2": {"datum": 116}}},
  {"data": {"name": "w"}, "mark": {"type": "line", "color": "#2cc82c", "strokeWidth": 1, "clip": true}, "encoding": {
    "x": {"field": "t", "type": "quantitative", "scale": {"domain": [-16.25, 165.75], "nice": false, "zero": false}, "axis": {"orient": "bottom", "values": [0, 25, 50, 75, 100, 125, 150], "labelExpr": "datum.value === 0 ? '-0.00' : format(datum.value, '.2f')", "title": "x10 ms", "titleX": 752, "titleY": 12, "titleAlign": "left", "titleBaseline": "middle", "titleFontSize": 11, "titleFontWeight": "normal", "titleColor": "#222222", "domainColor": "#a898b8", "tickColor": "#a898b8", "tickSize": 5, "labelFontSize": 11, "labelColor": "#222222", "labelPadding": 2, "grid": false, "labelFlush": false}},
    "y": {"field": "g", "type": "quantitative", "scale": {"domain": [-125, 125], "nice": false}, "axis": {"title": ["x195 L-50800-3I0", "4.25", "422.20", "417.95", "A (rms)"]}}}},
  {"data": {"name": "zero"}, "mark": {"type": "rule", "color": "#2cc82c"}, "encoding": {"y": {"field": "v", "type": "quantitative", "axis": null}}},
  {"data": {"name": "tc"}, "mark": {"type": "rule", "color": "#b8a8c4", "strokeWidth": 2}, "encoding": {"x": {"field": "t", "type": "quantitative", "axis": null}}},
  {"data": {"name": "tz"}, "mark": {"type": "rule", "color": "#8b2260", "strokeDash": [2, 2]}, "encoding": {"x": {"field": "t", "type": "quantitative", "axis": null}}},
  {"data": {"name": "tm"}, "mark": {"type": "rule", "color": "#b4a8bc"}, "encoding": {"x": {"field": "t", "type": "quantitative", "axis": null}}}
 ]}
]
}
